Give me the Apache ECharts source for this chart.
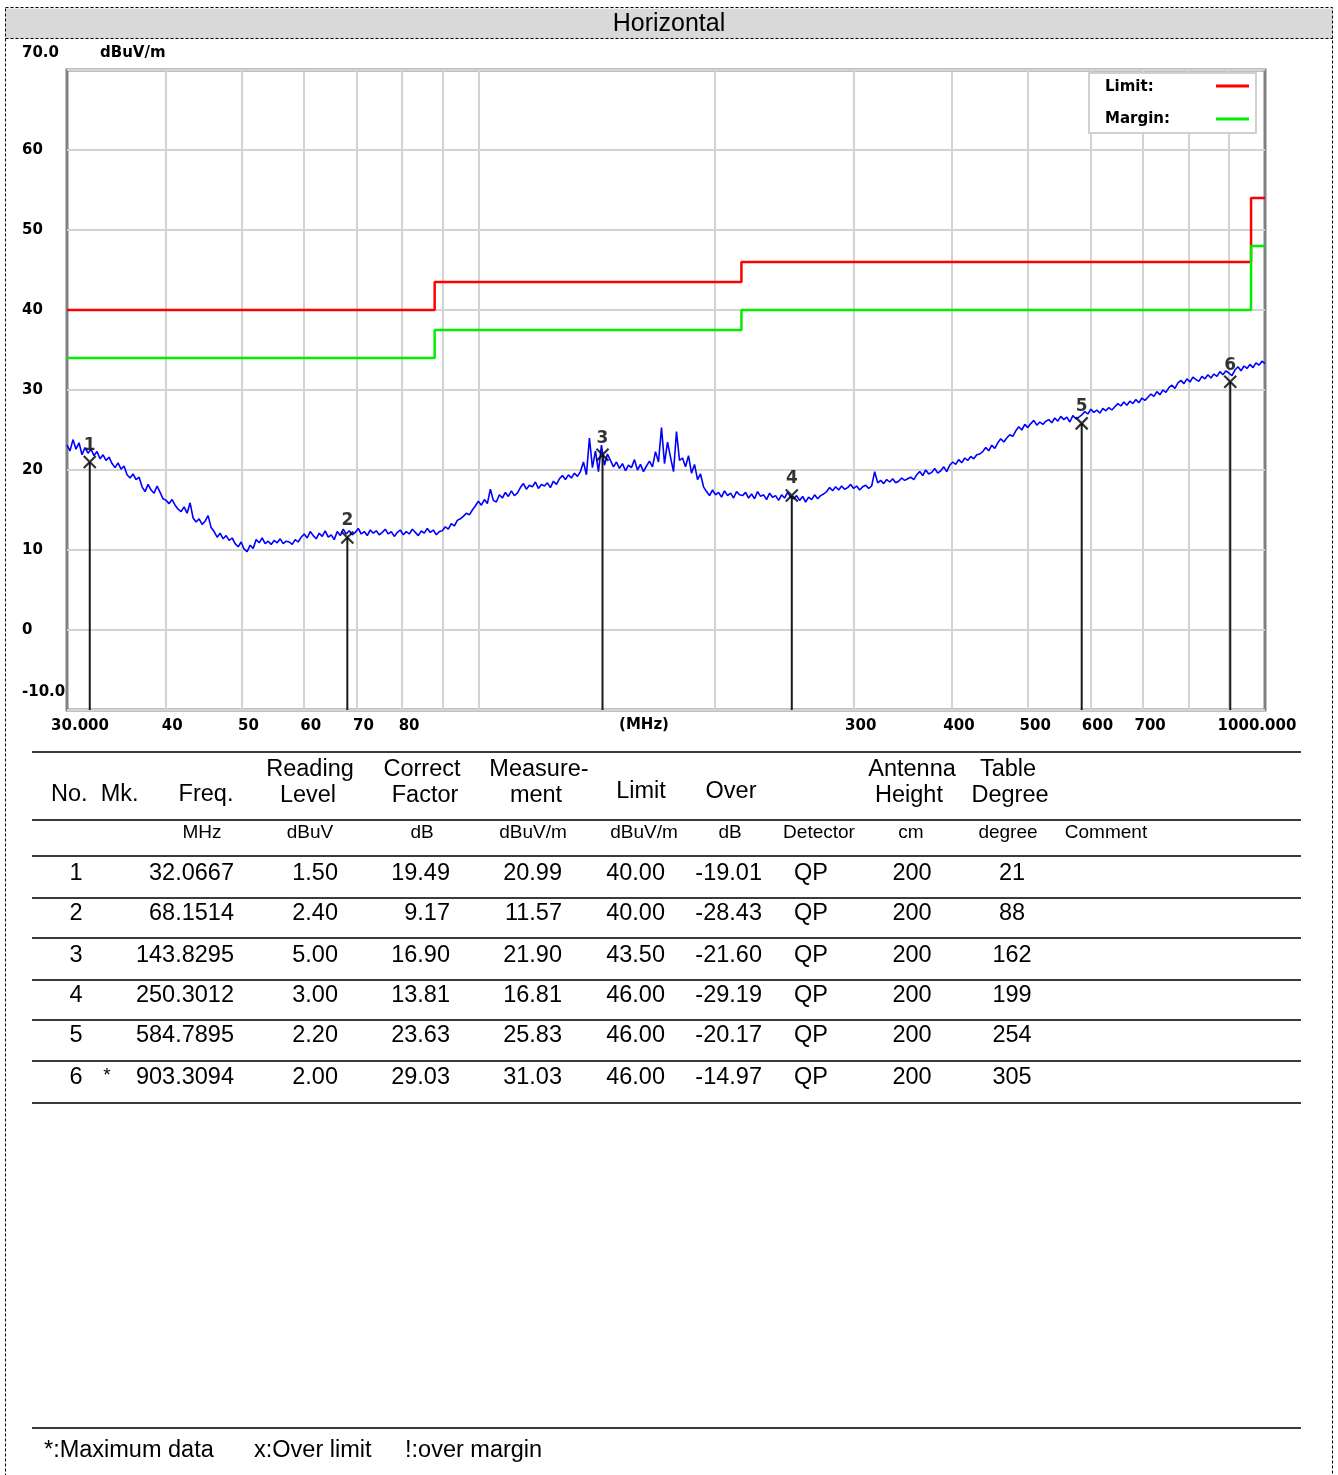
<!DOCTYPE html>
<html>
<head>
<meta charset="utf-8">
<script src="https://cdn.jsdelivr.net/npm/echarts@6/dist/echarts.min.js"></script>
<style>
  html, body { margin: 0; padding: 0; background: #fff; }
  #chart { width: 1338px; height: 1475px; }
</style>
</head>
<body>
<div id="chart"></div>
<script>
// ---- Receiver sweep (MHz), log-spaced points ----
const sweepStart = 30;
const sweepStop = 1000;

// Peak trace, dBuV/m, one level per sweep point
const traceLevels = [
  23.1, 22.4, 23.8, 22.6, 23.4, 21.9, 22.8, 22.1,
  22.6, 21.8, 22.3, 21.4, 21.9, 21.2, 21.6,
  20.8, 20.3, 20.9, 20.1, 20.5,
  19.4, 19.0, 19.5, 18.8, 19.1,
  17.9, 17.3, 18.2, 17.5, 17.1, 18.0, 17.2, 16.4,
  16.2, 15.8, 16.3, 15.6,
  15.1, 14.8, 15.4, 14.6, 15.9,
  14.0, 13.5, 13.9, 13.2, 13.6, 14.3,
  12.8, 12.3, 11.6, 12.1, 11.4, 11.8, 11.2, 11.5,
  10.8, 10.4, 11.0, 10.1, 9.8, 10.6, 10.2,
  11.3, 10.9, 11.5, 10.8, 11.1, 10.7, 11.2, 10.9, 11.4, 10.8, 11.1, 11.0, 10.7, 11.3, 11.0,
  11.6, 12.0, 11.5, 12.3, 11.8, 11.4, 12.1, 11.7, 12.4, 11.6, 11.9, 11.3,
  12.3, 11.8, 12.6, 12.0, 12.4, 11.9, 12.2, 12.7, 12.0, 12.3, 11.8, 12.5, 12.1, 12.4, 11.9, 12.2, 12.6,
  12.0, 12.3, 11.7, 12.2, 12.5, 11.9, 12.3, 12.0, 12.6, 12.2, 11.8, 12.4, 12.1, 12.7, 12.2, 12.5, 11.9, 12.3,
  12.4, 12.9, 12.6, 13.3, 13.0, 13.7, 13.9, 14.2, 14.6, 14.4, 15.0,
  15.5, 16.1, 15.6, 16.3, 15.8, 17.6, 16.2, 16.0,
  16.9, 16.5, 17.2, 16.7, 17.4, 16.8, 17.1,
  17.8, 18.3, 17.6, 18.1, 17.9, 18.5, 17.7, 18.2, 18.0, 18.4, 17.8, 18.6, 18.2,
  18.9, 19.3, 18.8, 19.4, 19.0, 19.6, 19.2, 19.8,
  21.0, 19.4, 24.0, 20.3, 22.4, 19.8, 23.1, 20.6, 22.0,
  21.2, 20.4, 21.0, 20.2, 20.8, 19.9, 20.6, 20.3, 21.3, 20.0, 20.7, 19.8, 20.5, 21.1, 20.4,
  22.3, 21.0, 25.3, 20.8, 23.5, 21.6, 19.8, 24.8, 21.2,
  21.5, 20.4, 21.8, 19.6, 20.7, 18.8, 19.5, 17.9,
  17.3, 16.8, 17.5, 16.9, 17.2, 16.6, 17.4, 16.8, 17.1, 16.5, 17.3, 16.9,
  16.8, 17.2, 16.5, 17.0, 16.4, 17.3, 16.7, 16.9, 16.3, 17.1, 16.6, 16.8, 16.2, 16.9, 16.5, 17.2, 16.6,
  16.4, 16.8, 16.2, 16.7, 16.0, 16.6, 16.3, 16.9, 16.4, 16.8, 17.0,
  17.3, 17.8, 17.4, 17.9, 17.5, 18.0, 17.6, 17.8, 18.2, 17.7, 18.0, 17.5, 17.9, 18.1, 17.7, 18.0,
  19.8, 18.4, 18.7, 18.3, 18.8, 18.5, 18.9, 18.4, 18.6, 19.0, 18.7, 18.9, 19.1, 18.8,
  19.4, 19.8, 19.3, 20.0, 19.5, 19.7, 20.2, 19.6, 19.9, 20.4, 19.8,
  20.6, 21.0, 20.7, 21.3, 20.9, 21.5, 21.2, 21.7, 21.4, 21.9, 22.0,
  22.3, 22.8, 22.4, 23.1, 22.7, 23.4, 23.9, 23.5, 24.0, 24.4, 24.2,
  24.9, 25.4, 25.0, 25.7, 25.3, 25.8, 26.2, 25.6, 26.0, 25.7, 26.1,
  26.3, 25.9, 26.5, 26.1, 26.7, 26.3, 26.6, 26.0, 26.8, 26.4, 26.6,
  26.9, 27.3, 27.0, 27.6, 27.2, 27.5, 27.1, 27.7, 27.4, 27.8, 27.5,
  27.9, 28.3, 28.0, 28.5, 28.1, 28.6, 28.3, 28.8, 28.4, 29.0, 28.7,
  29.1, 29.5, 29.2, 29.8, 29.4, 30.0, 29.7, 30.3, 30.6, 30.2, 30.9,
  31.2, 30.8, 31.4, 31.0, 31.6, 31.3, 31.1, 31.7, 31.4, 31.9, 31.5,
  32.0, 31.7, 32.3, 31.9, 32.4, 32.1, 31.8,
  32.5, 32.9, 32.4, 33.0, 32.7, 33.2, 32.8, 33.4, 33.1, 33.6, 33.3
];

// ---- Limit and margin (QP, 3 m) ----
const limitFreqs   = [30, 88, 88, 216, 216, 960, 960, 1000];
const limitLevels  = [40, 40, 43.5, 43.5, 46, 46, 54, 54];
const marginLevels = [34, 34, 37.5, 37.5, 40, 40, 48, 48];

// ---- Axis ticks ----
const xLabelFreqs = [30, 40, 50, 60, 70, 80, 300, 400, 500, 600, 700, 1000];
const xGridFreqs  = [40, 50, 60, 70, 80, 90, 100, 200, 300, 400, 500, 600, 700, 800, 900];
const yMin = -10, yMax = 70, yStep = 10;

// ---- Final readings ----
const rowNo       = [1, 2, 3, 4, 5, 6];
const rowMk       = ['', '', '', '', '', '*'];
const rowFreq     = [32.0667, 68.1514, 143.8295, 250.3012, 584.7895, 903.3094];
const rowReading  = [1.50, 2.40, 5.00, 3.00, 2.20, 2.00];
const rowCorrect  = [19.49, 9.17, 16.90, 13.81, 23.63, 29.03];
const rowMeasure  = [20.99, 11.57, 21.90, 16.81, 25.83, 31.03];
const rowLimit    = [40.00, 40.00, 43.50, 46.00, 46.00, 46.00];
const rowOver     = [-19.01, -28.43, -21.60, -29.19, -20.17, -14.97];
const rowDetector = ['QP', 'QP', 'QP', 'QP', 'QP', 'QP'];
const rowHeight   = [200, 200, 200, 200, 200, 200];
const rowDegree   = [21, 88, 162, 199, 254, 305];

// ---------------------------------------------------------------
const lg = Math.log10;
const n = traceLevels.length;
const ratio = sweepStop / sweepStart;
const traceData = traceLevels.map((v, i) => [lg(sweepStart * Math.pow(ratio, i / (n - 1))), v]);
const limitData = limitFreqs.map((f, i) => [lg(f), limitLevels[i]]);
const marginData = limitFreqs.map((f, i) => [lg(f), marginLevels[i]]);

const BOLD = "'DejaVu Sans', sans-serif";
const SANS = "'Liberation Sans', Arial, sans-serif";

const chart = echarts.init(document.getElementById('chart'), null, { renderer: 'canvas' });

// vertical marker stems, one series per marker
const stemSeries = rowFreq.map((f, i) => ({
  type: 'line',
  data: [[lg(f), yMin], [lg(f), rowMeasure[i]]],
  showSymbol: false,
  silent: true,
  lineStyle: { color: '#1a1a1a', width: 2 },
  z: 4
}));

// ---- table graphics ----
const G = [];
function txt(x, y, s, opt) {
  opt = opt || {};
  G.push({
    type: 'text', x: x, y: y, silent: true, z: 10,
    style: {
      text: s,
      fontFamily: opt.family || SANS,
      fontSize: opt.size || 23.5,
      fontWeight: opt.weight || 'normal',
      fill: opt.color || '#000',
      align: opt.align || 'center',
      verticalAlign: 'middle'
    }
  });
}
function hline(y, x1, x2, w, c) {
  G.push({ type: 'line', silent: true, z: 10,
    shape: { x1: x1, y1: y, x2: x2, y2: y },
    style: { stroke: c || '#3a3a3a', lineWidth: w || 2 } });
}
const boldOpt = (align) => ({ family: BOLD, weight: 'bold', size: 15, align: align || 'left' });

// page frame + title bar
G.push({ type: 'rect', silent: true, z: 1, shape: { x: 5.5, y: 8.5, width: 1327, height: 30 },
  style: { fill: '#d9d9d9', stroke: null } });
G.push({ type: 'rect', silent: true, z: 2, shape: { x: 5.5, y: 7.5, width: 1327, height: 1500 },
  style: { fill: null, stroke: '#000', lineWidth: 1, lineDash: [3, 2] } });
G.push({ type: 'line', silent: true, z: 2, shape: { x1: 5.5, y1: 38.5, x2: 1332.5, y2: 38.5 },
  style: { stroke: '#000', lineWidth: 1, lineDash: [3, 2] } });
txt(669, 24, 'Horizontal', { size: 25 });

// axis captions
txt(22, 53, '70.0', boldOpt());
txt(100, 53, 'dBuV/m', boldOpt());
txt(22, 692, '-10.0', boldOpt());
txt(644, 725, '(MHz)', boldOpt('center'));

// legend box
G.push({ type: 'rect', silent: true, z: 9, shape: { x: 1089, y: 73, width: 167, height: 60 },
  style: { fill: '#fff', stroke: '#d0d0d0', lineWidth: 2 } });
txt(1105, 87, 'Limit:', boldOpt());
txt(1105, 119, 'Margin:', boldOpt());
G.push({ type: 'line', silent: true, z: 10, shape: { x1: 1216, y1: 86, x2: 1249, y2: 86 },
  style: { stroke: '#ff0000', lineWidth: 3 } });
G.push({ type: 'line', silent: true, z: 10, shape: { x1: 1216, y1: 119, x2: 1249, y2: 119 },
  style: { stroke: '#00ee00', lineWidth: 3 } });

// table rules
const TX1 = 32, TX2 = 1301;
[752, 820, 856].forEach(y => hline(y, TX1, TX2));
const rowY = [874, 914, 956, 996, 1036, 1078];
const rowRule = [898, 938, 980, 1020, 1061, 1103];
rowRule.forEach(y => hline(y, TX1, TX2));
hline(1428, TX1, TX2);

// header
txt(51, 795, 'No.  Mk.', { align: 'left' });
txt(206, 795, 'Freq.');
txt(310, 770, 'Reading'); txt(308, 796, 'Level');
txt(422, 770, 'Correct'); txt(425, 796, 'Factor');
txt(539, 770, 'Measure-'); txt(536, 796, 'ment');
txt(641, 792, 'Limit');
txt(731, 792, 'Over');
txt(912, 770, 'Antenna'); txt(909, 796, 'Height');
txt(1008, 770, 'Table'); txt(1010, 796, 'Degree');

// units
const unitText = ['MHz', 'dBuV', 'dB', 'dBuV/m', 'dBuV/m', 'dB', 'Detector', 'cm', 'degree', 'Comment'];
const unitX = [202, 310, 422, 533, 644, 730, 819, 911, 1008, 1106];
unitText.forEach((u, i) => txt(unitX[i], 833, u, { size: 19 }));

// rows
rowNo.forEach((no, i) => {
  const y = rowY[i];
  txt(76, y, String(no));
  if (rowMk[i]) txt(107, y - 2, rowMk[i], { size: 19 });
  txt(234, y, rowFreq[i].toFixed(4), { align: 'right' });
  txt(338, y, rowReading[i].toFixed(2), { align: 'right' });
  txt(450, y, rowCorrect[i].toFixed(2), { align: 'right' });
  txt(562, y, rowMeasure[i].toFixed(2), { align: 'right' });
  txt(665, y, rowLimit[i].toFixed(2), { align: 'right' });
  txt(762, y, rowOver[i].toFixed(2), { align: 'right' });
  txt(811, y, rowDetector[i]);
  txt(912, y, String(rowHeight[i]));
  txt(1012, y, String(rowDegree[i]));
});

// footer notes
txt(44, 1451, '*:Maximum data', { align: 'left' });
txt(254, 1451, 'x:Over limit', { align: 'left' });
txt(405, 1451, '!:over margin', { align: 'left' });

const labelFont = { fontFamily: BOLD, fontWeight: 'bold', fontSize: 15, color: '#000' };

chart.setOption({
  animation: false,
  backgroundColor: '#fff',
  grid: {
    left: 67, top: 70, width: 1198, height: 640,
    show: true, borderColor: '#808080', borderWidth: 3, backgroundColor: 'transparent'
  },
  xAxis: {
    type: 'value',
    min: lg(sweepStart), max: lg(sweepStop),
    axisLine: { show: false },
    axisTick: { show: false, customValues: xGridFreqs.map(lg) },
    splitLine: { show: true, lineStyle: { color: '#d3d3d3', width: 2 } },
    axisLabel: {
      customValues: xLabelFreqs.map(lg),
      margin: 9,
      formatter: v => {
        const f = Math.round(Math.pow(10, v));
        if (f === sweepStart) return '{s|' + f.toFixed(3) + '}';
        if (f === sweepStop) return '{e|' + f.toFixed(3) + '}';
        return '{a|' + f + '}';
      },
      rich: {
        a: Object.assign({ padding: [0, 0, 0, 14] }, labelFont),
        s: Object.assign({ padding: [0, 0, 0, 26] }, labelFont),
        e: Object.assign({ padding: [0, 16, 0, 0] }, labelFont)
      }
    }
  },
  yAxis: {
    type: 'value',
    min: yMin, max: yMax, interval: yStep,
    axisLine: { show: false },
    axisTick: { show: false },
    splitLine: { show: true, lineStyle: { color: '#d3d3d3', width: 2 } },
    axisLabel: Object.assign({
      align: 'left', margin: 45, padding: [0, 0, 4, 0],
      formatter: v => (v === yMin || v === yMax) ? '' : String(v)
    }, labelFont)
  },
  series: [
    {
      name: 'Limit', type: 'line', data: limitData, showSymbol: false, silent: true,
      lineStyle: { color: '#ff0000', width: 2.5 }, z: 3
    },
    {
      name: 'Margin', type: 'line', data: marginData, showSymbol: false, silent: true,
      lineStyle: { color: '#00ee00', width: 2.5 }, z: 3
    },
    {
      name: 'Trace', type: 'line', data: traceData, showSymbol: false, silent: true,
      lineStyle: { color: '#0000ff', width: 1.6 }, z: 2
    }
  ].concat(stemSeries, [{
    name: 'Markers', type: 'scatter', silent: true, z: 6,
    data: rowFreq.map((f, i) => [lg(f), rowMeasure[i]]),
    symbol: 'path://M0,0L10,10M10,0L0,10',
    symbolSize: 12,
    itemStyle: { color: 'rgba(0,0,0,0)', borderColor: '#000', borderWidth: 2.2 },
    label: {
      show: true, position: 'top', distance: 1,
      formatter: p => String(rowNo[p.dataIndex]),
      fontFamily: BOLD, fontWeight: 'bold', fontSize: 17, color: '#000'
    }
  }]),
  graphic: { elements: G }
});
</script>
</body>
</html>
